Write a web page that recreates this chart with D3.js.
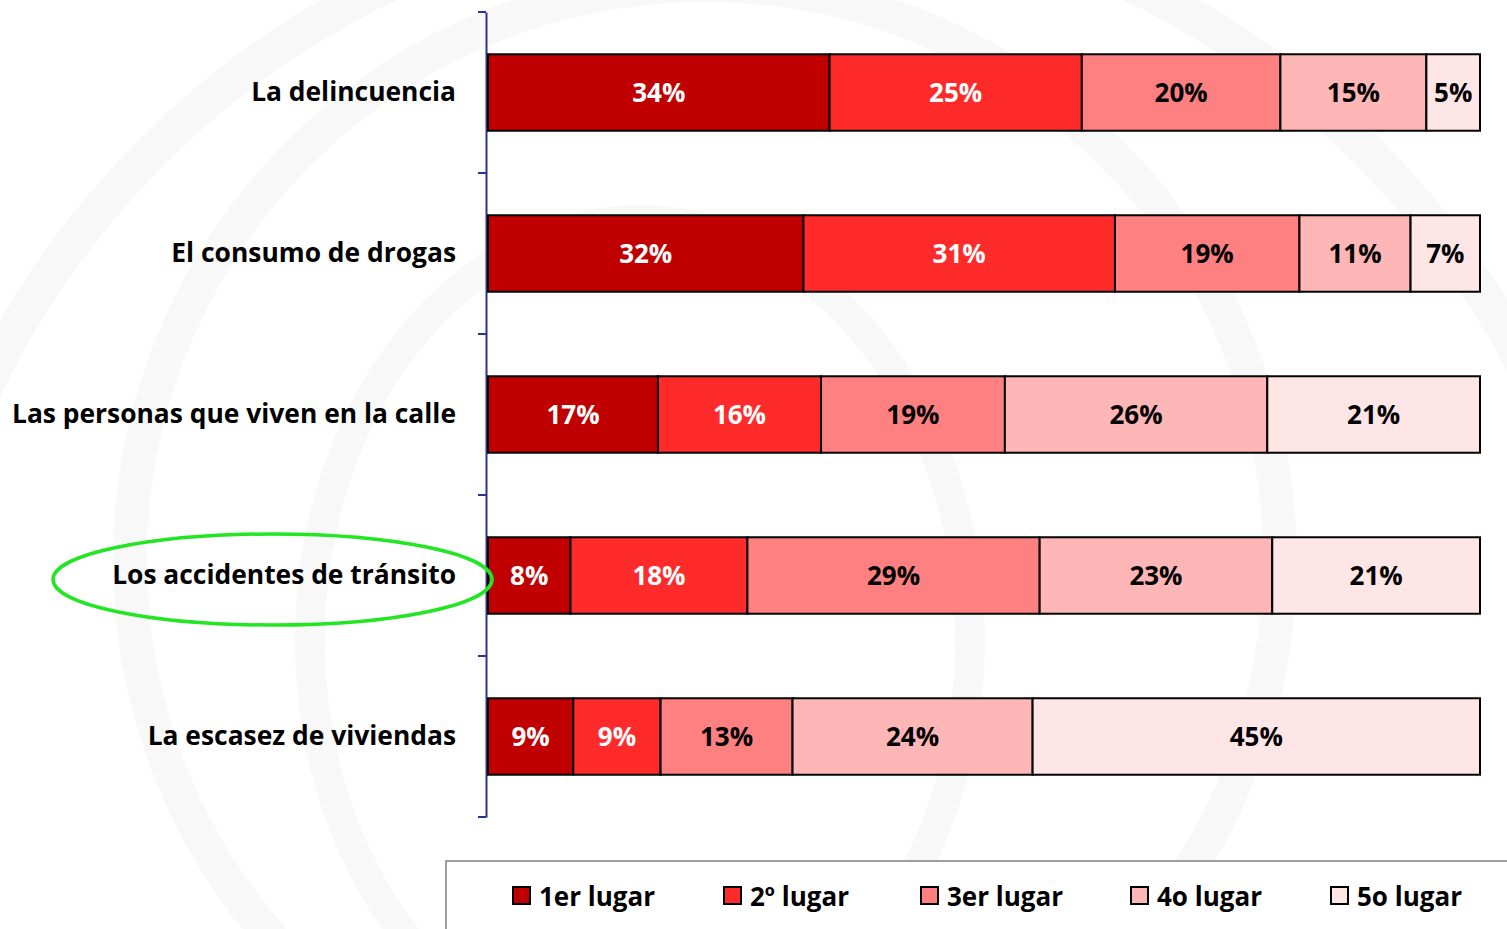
<!DOCTYPE html>
<html><head><meta charset="utf-8">
<script src="https://cdn.jsdelivr.net/npm/d3@7"></script>
<style>html,body{margin:0;padding:0;background:#fff;overflow:hidden}</style>
</head><body><svg id="c" width="1507" height="929"></svg>
<script>
const categories = ["La delincuencia","El consumo de drogas","Las personas que viven en la calle","Los accidentes de tránsito","La escasez de viviendas"];
const seriesNames = ["1er lugar","2º lugar","3er lugar","4o lugar","5o lugar"];
const s1 = [34.4, 31.8, 17.1, 8.3, 8.6];
const s2 = [25.4, 31.4, 16.4, 17.8, 8.8];
const s3 = [20.0, 18.6, 18.5, 29.4, 13.3];
const s4 = [14.7, 11.2, 26.4, 23.4, 24.2];
const s5 = [5.4, 7.0, 21.4, 20.9, 45.1];
const colors = ["#C00000","#FF2B2B","#FF8080","#FFB6B6","#FFE6E6"];
const textColors = ["#fff","#fff","#000","#000","#000"];
const highlighted = "Los accidentes de tránsito";

const FONT = "'Open Sans', Lato, sans-serif";
const svg = d3.select("#c");

// faint watermark rings
const wm = svg.append("g").attr("fill","none").attr("stroke","#f8f8f8");
wm.append("circle").attr("cx",705).attr("cy",560).attr("r",575).attr("stroke-width",34);
wm.append("circle").attr("cx",760).attr("cy",760).attr("r",860).attr("stroke-width",36);
wm.append("ellipse").attr("cx",640).attr("cy",640).attr("rx",330).attr("ry",420).attr("stroke-width",30);

const series = [s1,s2,s3,s4,s5];
const rows = categories.map((c,i)=>{
  const vals = series.map(s=>s[i]);
  const tot = d3.sum(vals);
  let acc = 0;
  return {cat:c, segs: vals.map((v,j)=>{const o={j, v, x0:acc/tot*100, x1:(acc+v)/tot*100}; acc+=v; return o;})};
});

const x = d3.scaleLinear().domain([0,100]).range([488,1480]);
const y = d3.scaleBand().domain(categories).range([12,817]).paddingInner(0.525).paddingOuter(0.2625);

// axis (blue)
const axisG = svg.append("g").attr("transform","translate(486,0)")
  .call(d3.axisLeft(y).tickSizeInner(0).tickSizeOuter(0).tickFormat(""));
axisG.select(".domain").attr("stroke","#2E3192").attr("stroke-width",2);
const step = y.step();
const tickYs = d3.range(categories.length+1).map(i=>12+i*step);
svg.append("g").selectAll("line").data(tickYs).join("line")
  .attr("x1",478).attr("x2",486).attr("y1",d=>d).attr("y2",d=>d)
  .attr("stroke","#2E3192").attr("stroke-width",2);

// category labels
svg.append("g").selectAll("text").data(categories).join("text")
  .attr("x",456).attr("y",d=>y(d)+y.bandwidth()/2).attr("dy","0.32em")
  .attr("text-anchor","end").attr("font-family",FONT).attr("font-weight","bold")
  .attr("font-size",26.4).attr("fill","#000").text(d=>d);

// bars
const rg = svg.append("g").selectAll("g").data(rows).join("g")
  .attr("transform",d=>`translate(0,${y(d.cat)})`);
rg.selectAll("rect").data(d=>d.segs).join("rect")
  .attr("x",d=>x(d.x0)).attr("width",d=>x(d.x1)-x(d.x0))
  .attr("y",0).attr("height",y.bandwidth())
  .attr("fill",d=>colors[d.j]).attr("stroke","#000").attr("stroke-width",2);
rg.selectAll("text").data(d=>d.segs).join("text")
  .attr("x",d=>(x(d.x0)+x(d.x1))/2).attr("y",y.bandwidth()/2).attr("dy","0.38em")
  .attr("text-anchor","middle").attr("font-family",FONT).attr("font-weight","bold")
  .attr("font-size",26).attr("fill",d=>textColors[d.j])
  .text(d=>Math.round(d.v)+"%");

// highlight ellipse
svg.append("ellipse").attr("cx",272.5).attr("cy",y(highlighted)+y.bandwidth()/2+4)
  .attr("rx",219.5).attr("ry",45.5).attr("fill","none").attr("stroke","#22E622").attr("stroke-width",3.5);

// legend
svg.append("rect").attr("x",446).attr("y",861).attr("width",1100).attr("height",120)
  .attr("fill","#fff").attr("stroke","#7f7f7f").attr("stroke-width",1.5);
const legX = [513,724,921,1131,1331];
const lg = svg.append("g").selectAll("g").data(seriesNames).join("g")
  .attr("transform",(d,i)=>`translate(${legX[i]},887)`);
lg.append("rect").attr("width",17).attr("height",17).attr("fill",(d,i)=>colors[i])
  .attr("stroke","#000").attr("stroke-width",2);
lg.append("text").attr("x",26).attr("y",9).attr("dy","0.38em")
  .attr("font-family",FONT).attr("font-weight","bold").attr("font-size",26).attr("fill","#000")
  .text(d=>d);
</script></body></html>
